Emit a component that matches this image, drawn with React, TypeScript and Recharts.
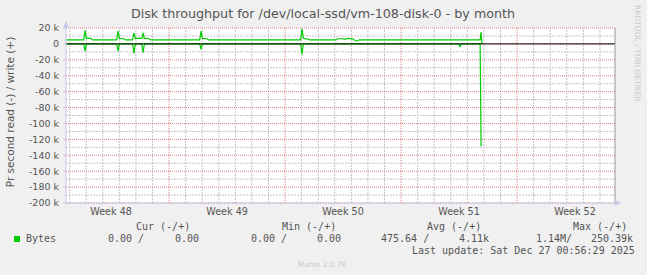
import React from "react";
import {
  LineChart,
  Line,
  XAxis,
  YAxis,
  CartesianGrid,
  ReferenceLine,
} from "recharts";

// time axis in days from the left edge of the graph
const days = [
  0, 1.07, 1.15, 1.23, 1.5, 1.6, 3.06, 3.14, 3.22, 3.5, 3.6, 4.02, 4.1, 4.18,
  4.57, 4.65, 4.73, 5.0, 5.1, 8.07, 8.15, 8.23, 8.5, 8.6, 14.16, 14.24, 14.32,
  14.6, 14.7, 16.3, 16.4, 16.7, 16.8, 17.0, 17.3, 17.45, 17.6, 17.7, 23.7,
  23.78, 23.86, 24.99, 25.05, 25.1,
];
const writes = [
  5000, 5000, 17000, 7000, 7000, 5000, 5000, 16000, 7000, 6500, 5000, 5000,
  14000, 7000, 7000, 13000, 7000, 6500, 5000, 5000, 16000, 7000, 6500, 5000,
  5000, 19000, 7000, 6000, 5000, 5000, 6500, 6500, 5800, 7000, 6500, 4000,
  4000, 5000, 5000, 5000, 5000, 5000, 15000, 0,
];
const reads = [
  0, 0, -9000, 0, 0, 0, 0, -9000, 0, 0, 0, 0, -12000, 0, 0, -11000, 0, 0, 0, 0,
  -7000, 0, 0, 0, 0, -13000, 0, 0, 0, 0, 0, 0, 0, 0, 0, 0, 0, 0, 0, -3500, 0,
  0, -128000, -128000,
];

const weekStarts = [6.22, 13.22, 20.22, 27.22];
const weekLabels = ["Week 48", "Week 49", "Week 50", "Week 51", "Week 52"];
const weekLabelPos = [2.72, 9.72, 16.72, 23.72, 30.72];
const yTicks = [
  20000, 0, -20000, -40000, -60000, -80000, -100000, -120000, -140000,
  -160000, -180000, -200000,
];

const X_MAX = 33.13;
const GREEN = "#00cc00";
const MINOR = "#c4c4c4";
const MAJOR = "#e08080";

const rows = days.map((d, i) => ({ day: d, write: writes[i], read: reads[i] }));

const dayLines: number[] = [];
for (let i = 0; i < 34; i++) {
  const d = 0.22 + i;
  if (d < X_MAX && !weekStarts.some((w) => Math.abs(w - d) < 0.01)) dayLines.push(d);
}
const minorY: number[] = [];
for (let v = 10000; v >= -190000; v -= 20000) minorY.push(v);

const fmtY = (v: number) => (v === 0 ? "0" : `${v / 1000} k`);

const mono: React.CSSProperties = {
  position: "absolute",
  fontFamily: "DejaVu Sans Mono",
  fontSize: 10,
  color: "#555",
  whiteSpace: "pre",
  lineHeight: "12px",
};

const T = (x: number, y: number, s: string) => (
  <div style={{ ...mono, left: x, top: y - 6 }}>{s}</div>
);

export default function App() {
  return (
    <div
      style={{
        position: "absolute",
        left: 0,
        top: 0,
        width: 647,
        height: 275,
        background: "#f0f0f0",
        fontFamily: "DejaVu Sans",
        overflow: "hidden",
      }}
    >
      <LineChart
        width={647}
        height={275}
        data={rows}
        margin={{ top: 28, right: 32, bottom: 42, left: 6 }}
      >
        <CartesianGrid fill="#ffffff" horizontal={false} vertical={false} />
        {dayLines.map((d) => (
          <ReferenceLine
            key={"d" + d}
            x={d}
            stroke={MINOR}
            strokeDasharray="2 1"
          />
        ))}
        {minorY.map((v) => (
          <ReferenceLine
            key={"m" + v}
            y={v}
            stroke={MINOR}
            strokeDasharray="2 1"
          />
        ))}
        {weekStarts.map((d) => (
          <ReferenceLine
            key={"w" + d}
            x={d}
            stroke={MAJOR}
            strokeDasharray="1 1"
          />
        ))}
        {yTicks.map((v) => (
          <ReferenceLine
            key={"t" + v}
            y={v}
            stroke={MAJOR}
            strokeDasharray="1 1"
          />
        ))}
        <XAxis
          dataKey="day"
          type="number"
          domain={[0, X_MAX]}
          allowDataOverflow
          ticks={weekLabelPos}
          tickFormatter={(v: number) => weekLabels[weekLabelPos.indexOf(v)]}
          tickLine={false}
          tickSize={0}
          tickMargin={5}
          height={30}
          axisLine={{ stroke: "#c8c8e8" }}
          tick={{ fontSize: 9.6, fill: "#555" }}
        />
        <YAxis
          type="number"
          domain={[-200000, 20000]}
          allowDataOverflow
          ticks={yTicks}
          tickFormatter={fmtY}
          width={60}
          tickSize={3}
          tickMargin={4}
          axisLine={{ stroke: "#c8c8e8" }}
          tickLine={{ stroke: "#c8c8e8" }}
          tick={{ fontSize: 9.5, fill: "#555" }}
        />
        <Line
          type="linear"
          dataKey="write"
          stroke={GREEN}
          strokeWidth={1.2}
          dot={false}
          isAnimationActive={false}
        />
        <Line
          type="linear"
          dataKey="read"
          stroke={GREEN}
          strokeWidth={1.2}
          dot={false}
          isAnimationActive={false}
        />
        <ReferenceLine y={0} stroke="#000" strokeWidth={1} />
        <ReferenceLine x={X_MAX} stroke="#999" strokeWidth={1} />
      </LineChart>

      <svg
        width={647}
        height={275}
        style={{ position: "absolute", left: 0, top: 0, pointerEvents: "none" }}
      >
        <text
          x={323}
          y={18}
          textAnchor="middle"
          fontSize={12.7}
          fill="#555"
          fontFamily="DejaVu Sans"
        >
          Disk throughput for /dev/local-ssd/vm-108-disk-0 - by month
        </text>
        <text
          transform="translate(14,112) rotate(-90)"
          textAnchor="middle"
          fontSize={10.5}
          fill="#555"
          fontFamily="DejaVu Sans"
        >
          Pr second read (-) / write (+)
        </text>
        <text
          transform="translate(635,5) rotate(90)"
          textAnchor="start"
          fontSize={7.5}
          fill="#c8c8c8"
          fontFamily="DejaVu Sans"
        >
          RRDTOOL / TOBI OETIKER
        </text>
        <polygon points="63,28 69,28 66,21" fill="#c8c8e8" />
        <polygon points="615,200 615,206 621,203" fill="#c8c8e8" />
        <rect x={14} y={236} width={6} height={6} fill={GREEN} />
        <text
          x={322}
          y={267}
          textAnchor="middle"
          fontSize={7.5}
          fill="#c8c8c8"
          fontFamily="DejaVu Sans"
        >
          Munin 2.0.76
        </text>
      </svg>

      {T(136, 227, "Cur (-/+)")}
      {T(282, 227, "Min (-/+)")}
      {T(427, 227, "Avg (-/+)")}
      {T(573, 227, "Max (-/+)")}
      {T(26, 239, "Bytes")}
      {T(108, 239, "0.00 /")}
      {T(175, 239, "0.00")}
      {T(251, 239, "0.00 /")}
      {T(317, 239, "0.00")}
      {T(381, 239, "475.64 /")}
      {T(459, 239, "4.11k")}
      {T(536, 239, "1.14M/")}
      {T(591, 239, "250.39k")}
      {T(412, 251, "Last update: Sat Dec 27 00:56:29 2025")}
    </div>
  );
}
